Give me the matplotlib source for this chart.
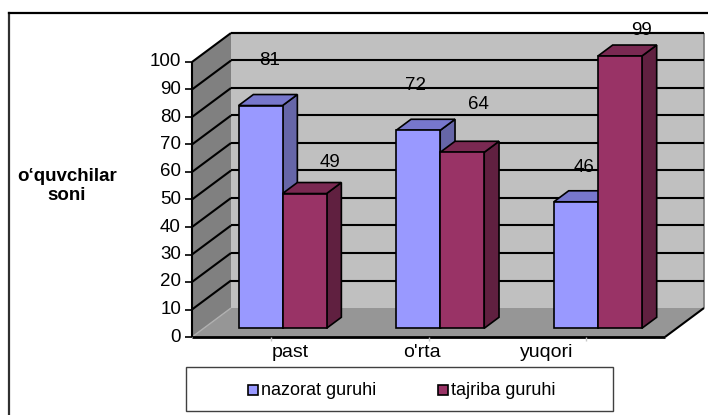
import matplotlib
matplotlib.use('Agg')
import matplotlib.pyplot as plt
from matplotlib.patches import Polygon, Rectangle
from matplotlib.lines import Line2D

# ---------------- data ----------------
categories = ['past', "o'rta", 'yuqori']
nazorat = [81, 72, 46]
tajriba = [49, 64, 99]
series_names = ['nazorat guruhi', 'tajriba guruhi']
y_ticks = [0, 10, 20, 30, 40, 50, 60, 70, 80, 90, 100]
y_label = 'o‘quvchilar\nsoni'

# ---------------- layout ----------------
W, H = 708, 415
X0_PX, X3_PX = 192, 665          # front plane x-range (pixels)
Y0_PX, Y100_PX = 337, 62         # front plane value 0 / 100 (pixels)
cat_px = (X3_PX - X0_PX) / 3.0
val_px = (Y0_PX - Y100_PX) / 100.0
DX = 39 / cat_px                 # depth offset (full depth) in data units
DY = 29 / val_px
D0, D1 = 0.30, 0.68              # bar depth range
BW = 44 / cat_px                 # bar width
cat_label_x = [0.62, 1.46, 2.25]
label_off = [(0.06, 19.7), (0.16, 14.3), (-0.02, 19.3), (0.10, 20.4), (0.05, 15.5), (0.14, 12.3)]

plt.rcParams['font.family'] = ['Liberation Sans', 'DejaVu Sans']

fig = plt.figure(figsize=(W / 100, H / 100), dpi=100)
ax = fig.add_axes([0, 0, 1, 1])
ax.set_xlim(-X0_PX / cat_px, (W - X0_PX) / cat_px)
ax.set_ylim(-(H - Y0_PX) / val_px, Y0_PX / val_px)
ax.axis('off')


def P(x, v, d):
    return (x + d * DX, v + d * DY)


def poly(pts, fc, ec='none', lw=0, z=1):
    ax.add_patch(Polygon(pts, closed=True, facecolor=fc, edgecolor=ec, linewidth=lw, zorder=z))


def line(p, q, color='black', lw=1.5, z=2):
    ax.add_line(Line2D([p[0], q[0]], [p[1], q[1]], color=color, linewidth=lw, zorder=z,
                       solid_capstyle='butt'))


n = len(categories)
vmax = y_ticks[-1]

# walls
poly([P(0, 0, 0), P(0, vmax, 0), P(0, vmax, 1), P(0, 0, 1)], '#808080', z=1)
poly([P(0, 0, 1), P(n, 0, 1), P(n, vmax, 1), P(0, vmax, 1)], '#C0C0C0', z=1)
poly([P(0, 0, 0), P(n, 0, 0), P(n, 0, 1), P(0, 0, 1)], '#969696', z=1)

# back wall outline
line(P(n, 0, 1), P(n, vmax, 1), color='#7a7a7a', lw=1.2)
line(P(0, vmax, 1), P(n, vmax, 1), color='#202020', lw=1.5)
line(P(0, 0, 0), P(0, 0, 1), color='#b0b0b0', lw=1.0)

# gridlines
for v in y_ticks[1:]:
    line(P(0, v, 1), P(n, v, 1), lw=1.5)
    line(P(0, v, 0), P(0, v, 1), lw=1.5)

# floor edges
line(P(0, 0, 0), P(n, 0, 0), lw=2.0, z=3)
line(P(n, 0, 0), P(n, 0, 1), lw=1.5, z=3)

# y axis
line(P(0, 0, 0), P(0, vmax, 0), lw=1.5, z=3)
tick_len = 7 / cat_px
for v in y_ticks:
    line((-tick_len, v), (0, v), lw=1.2, z=3)
    ax.text(-11 / cat_px, v, str(v), ha='right', va='center', fontsize=13.5, color='black')

# small category ticks
for i in range(n):
    line((i + 0.5, 0), (i + 0.5, -4 / val_px), color='#c8c8c8', lw=1.0, z=3)

# bars
front_cols = ['#9999FF', '#993366']
top_cols = ['#7777CC', '#7A2952']
side_cols = ['#6666A8', '#602040']


def box(x0, x1, v, k):
    side = [P(x1, 0, D0), P(x1, 0, D1), P(x1, v, D1), P(x1, v, D0)]
    top = [P(x0, v, D0), P(x1, v, D0), P(x1, v, D1), P(x0, v, D1)]
    front = [P(x0, 0, D0), P(x1, 0, D0), P(x1, v, D0), P(x0, v, D0)]
    poly(side, side_cols[k], 'black', 1.2, z=4)
    poly(top, top_cols[k], 'black', 1.2, z=4)
    poly(front, front_cols[k], 'black', 1.2, z=4)


li = 0
for i in range(n):
    c = i + 0.5
    for k, vals in enumerate([nazorat, tajriba]):
        x0 = c - BW if k == 0 else c
        box(x0, x0 + BW, vals[i], k)
        fx = x0 + BW / 2 + D0 * DX
        dx, dy = label_off[li]
        li += 1
        ax.text(fx + dx, vals[i] + dy, str(vals[i]), ha='center', va='center',
                fontsize=13.5, color='black', zorder=6)

# category labels
for x, lab in zip(cat_label_x, categories):
    ax.text(x, -(352 - Y0_PX) / val_px, lab, ha='center', va='center', fontsize=14, color='black')

# y label
ax.text((67 - X0_PX) / cat_px, (Y0_PX - 186) / val_px, y_label, ha='center', va='center',
        fontsize=13.5, fontweight='bold', linespacing=1.2)


# ---- figure-level frame and legend (pixel helpers) ----
def fx_(x):
    return x / W


def fy_(y):
    return 1 - y / H


fig.add_artist(Line2D([fx_(9), fx_(9)], [fy_(13), fy_(415)], color='#303030', lw=1.6,
                      transform=fig.transFigure))
fig.add_artist(Line2D([fx_(9), fx_(708)], [fy_(13), fy_(13)], color='black', lw=1.6,
                      transform=fig.transFigure))

fig.add_artist(Rectangle((fx_(186), fy_(411)), fx_(613) - fx_(186), fy_(367) - fy_(411),
                         facecolor='white', edgecolor='#404040', lw=1.0,
                         transform=fig.transFigure))
leg_x = [248, 438]
for k, name in enumerate(series_names):
    fig.add_artist(Rectangle((fx_(leg_x[k]), fy_(395)), fx_(10), fy_(385) - fy_(395),
                             facecolor=front_cols[k], edgecolor='black', lw=1.2,
                             transform=fig.transFigure))
    fig.text(fx_(leg_x[k] + 13), fy_(390), name, ha='left', va='center', fontsize=13)

fig.savefig('out.png', dpi=100)
